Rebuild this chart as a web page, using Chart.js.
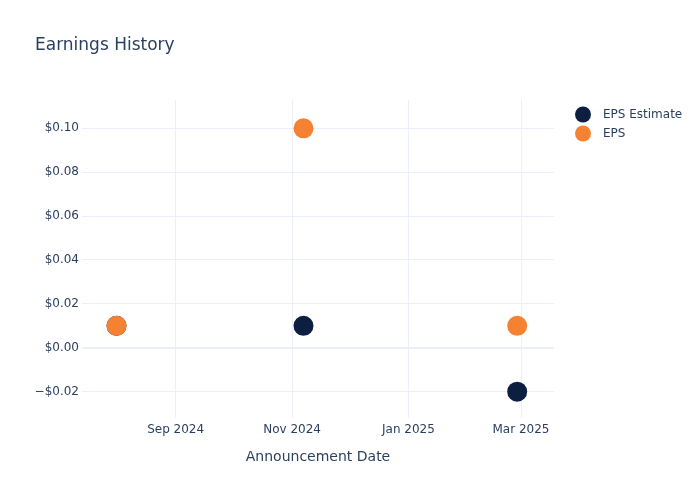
<!DOCTYPE html>
<html>
<head>
<meta charset="utf-8">
<script src="https://cdn.jsdelivr.net/npm/chart.js@4/dist/chart.umd.min.js"></script>
<style>
html,body{margin:0;padding:0;background:#fff;}
#wrap{width:700px;height:500px;position:relative;}
</style>
</head>
<body>
<div id="wrap"><canvas id="c" width="700" height="500"></canvas></div>
<script>
// ---- data ----
const announcementDates = ['2024-08-01', '2024-11-07', '2025-02-27'];
const epsEstimate = [0.01, 0.01, -0.02];
const epsActual = [0.01, 0.10, 0.01];
const seriesLabels = ['EPS Estimate', 'EPS'];
const seriesColors = ['#0c1f40', '#f58233'];
const xTickDates = ['2024-09-01', '2024-11-01', '2025-01-01', '2025-03-01'];
const yTickValues = [-0.02, 0, 0.02, 0.04, 0.06, 0.08, 0.10];
const xRange = ['2024-07-13T22:00:00Z', '2025-03-18T07:00:00Z'];
const yRange = [-0.032, 0.1129];
const monthNames = ['Jan','Feb','Mar','Apr','May','Jun','Jul','Aug','Sep','Oct','Nov','Dec'];

const ts = s => Date.parse(s.length === 10 ? s + 'T00:00:00Z' : s);
const toPoints = vals => announcementDates.map((d, i) => ({x: ts(d), y: vals[i]}));

const textColor = '#2a3f5f';
const gridColor = '#ebf0f8';
const FONT = 'DejaVu Sans';

const legendPlugin = {
  id: 'sideLegend',
  afterDraw(chart) {
    const ctx = chart.ctx;
    ctx.save();
    ctx.font = '12px "' + FONT + '"';
    ctx.textBaseline = 'middle';
    ctx.textAlign = 'left';
    chart.data.datasets.forEach((ds, i) => {
      const y = 114.5 + i * 19;
      ctx.beginPath();
      ctx.arc(583, y, 8, 0, Math.PI * 2);
      ctx.fillStyle = ds.backgroundColor;
      ctx.fill();
      ctx.fillStyle = textColor;
      ctx.fillText(ds.label, 603, y);
    });
    ctx.restore();
  }
};

new Chart(document.getElementById('c'), {
  type: 'scatter',
  data: {
    datasets: [
      {label: seriesLabels[0], data: toPoints(epsEstimate), backgroundColor: seriesColors[0], borderColor: seriesColors[0], pointRadius: 10, pointHoverRadius: 10, borderWidth: 0, order: 2},
      {label: seriesLabels[1], data: toPoints(epsActual), backgroundColor: seriesColors[1], borderColor: seriesColors[1], pointRadius: 10, pointHoverRadius: 10, borderWidth: 0, order: 1}
    ]
  },
  options: {
    responsive: false,
    animation: false,
    devicePixelRatio: 1,
    layout: {padding: {left: 35, right: 146, top: 0, bottom: 0}},
    plugins: {
      legend: {display: false},
      tooltip: {enabled: false},
      title: {
        display: true,
        text: 'Earnings History',
        align: 'start',
        color: textColor,
        font: {family: FONT, size: 17, weight: 'normal'},
        padding: {top: 35, bottom: 44.6}
      }
    },
    scales: {
      x: {
        type: 'linear',
        min: ts(xRange[0]),
        max: ts(xRange[1]),
        border: {display: false},
        grid: {color: gridColor, lineWidth: 1, drawTicks: false},
        afterBuildTicks: s => { s.ticks = xTickDates.map(d => ({value: ts(d)})); },
        afterFit: s => { s.height = 82; },
        ticks: {
          padding: 5,
          color: textColor,
          font: {family: FONT, size: 12},
          maxRotation: 0,
          autoSkip: false,
          callback: v => { const d = new Date(v); return monthNames[d.getUTCMonth()] + ' ' + d.getUTCFullYear(); }
        },
        title: {
          display: true,
          text: 'Announcement Date',
          color: textColor,
          font: {family: FONT, size: 14},
          padding: {top: 0, bottom: 34}
        }
      },
      y: {
        type: 'linear',
        min: yRange[0],
        max: yRange[1],
        border: {display: false},
        grid: {
          color: gridColor,
          lineWidth: ctx => (ctx.tick && Math.abs(ctx.tick.value) < 1e-9) ? 2 : 1,
          drawTicks: false
        },
        afterBuildTicks: s => { s.ticks = yTickValues.map(v => ({value: v})); },
        afterFit: s => { s.width = 47; },
        ticks: {
          padding: 3,
          color: textColor,
          font: {family: FONT, size: 12},
          callback: v => (v < -1e-9 ? '\u2212$' : '$') + Math.abs(v).toFixed(2)
        }
      }
    }
  },
  plugins: [legendPlugin]
});
</script>
</body>
</html>
